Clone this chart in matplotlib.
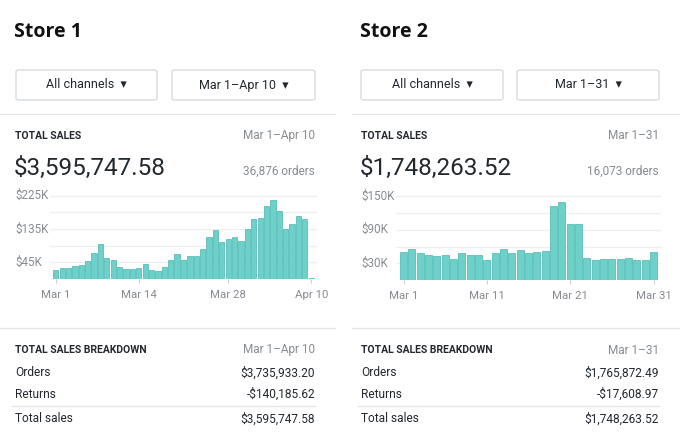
import matplotlib
matplotlib.use("Agg")
import matplotlib.pyplot as plt
from matplotlib.lines import Line2D
from matplotlib.patches import FancyBboxPatch

W, H = 680, 447

# data (values in $K per day)
store1_sales = [24, 30, 31, 34, 39, 48, 69, 94, 58, 52, 33, 27, 27, 30, 40, 24, 22, 33, 52, 67,
                50, 63, 61, 80, 114, 132, 101, 108, 112, 103, 134, 162, 164, 197, 214, 184, 136, 148, 169, 162, 3]
store1_ticks = [0, 13, 27, 40]
store1_ticklabels = ["Mar 1", "Mar 14", "Mar 28", "Apr 10"]
store1_yticks = [45, 90, 135, 180, 225]
store1_ylabels = ["$45K", "", "$135K", "", "$225K"]

store2_sales = [51, 55, 48, 45, 43, 44, 37, 48, 45, 45, 35, 48, 55, 49, 54, 48, 50, 52, 133, 140,
                101, 101, 40, 35, 38, 37, 37, 40, 35, 35, 51]
store2_ticks = [0, 10, 20, 30]
store2_ticklabels = ["Mar 1", "Mar 11", "Mar 21", "Mar 31"]
store2_yticks = [30, 60, 90, 120, 150]
store2_ylabels = ["$30K", "", "$90K", "", "$150K"]

stores = ["Store 1", "Store 2"]
ranges = ["Mar 1\u2013Apr 10", "Mar 1\u201331"]
totals = ["$3,595,747.58", "$1,748,263.52"]
orders = ["36,876 orders", "16,073 orders"]
breakdown_labels = ["Orders", "Returns", "Total sales"]
breakdown_vals = [["$3,735,933.20", "-$140,185.62", "$3,595,747.58"],
                  ["$1,765,872.49", "-$17,608.97", "$1,748,263.52"]]

DARK = "#22282e"
GRAY = "#868c92"
LINE = "#e3e6e9"
BAR = "#6dd0c9"
BAR_EDGE = "#46b5ae"
BODY = ["Roboto", "DejaVu Sans"]

fig = plt.figure(figsize=(W / 100, H / 100), dpi=100)
fig.patch.set_facecolor("white")


def fx(x):
    return x / W


def fy(y):
    return 1 - y / H


def txt(x, y, s, **kw):
    kw.setdefault("family", BODY)
    kw.setdefault("color", DARK)
    fig.text(fx(x), fy(y), s, va="center", **kw)


def hline(x0, x1, y, color=LINE, lw=0.9):
    fig.add_artist(Line2D([fx(x0), fx(x1)], [fy(y), fy(y)], color=color, lw=lw,
                          transform=fig.transFigure))


def box(x0, x1, y0, y1):
    fig.add_artist(FancyBboxPatch((fx(x0), fy(y1)), fx(x1 - x0), (y1 - y0) / H,
                                  boxstyle="round,pad=0,rounding_size=0.004",
                                  facecolor="white", edgecolor="#cdd3d8", lw=0.8,
                                  transform=fig.transFigure))


def bar_chart(left, right, zero_y, px_per_k, top_k, vals, ticks, ticklabels, yticks, ylabels, label_x):
    top_y = zero_y - top_k * px_per_k
    ax = fig.add_axes([fx(left), fy(zero_y), fx(right - left), (zero_y - top_y) / H])
    x = list(range(len(vals)))
    ax.bar(x, vals, width=0.82, color=BAR, edgecolor=BAR_EDGE, linewidth=0.5, zorder=3)
    ax.set_xlim(-0.9, len(vals) - 0.1)
    ax.set_ylim(0, top_k)
    ax.set_yticks(yticks)
    ax.set_yticklabels([])
    ax.tick_params(axis="y", length=0)
    ax.grid(axis="y", color="#eceef0", lw=0.9, zorder=0)
    ax.set_xticks(ticks)
    ax.set_xticklabels(ticklabels, family=BODY, fontsize=8.2, color=GRAY)
    ax.tick_params(axis="x", length=3, color="#c9cfd5", pad=5)
    for s in ax.spines.values():
        s.set_visible(False)
    for yt, lab in zip(yticks, ylabels):
        if lab:
            txt(label_x, zero_y - yt * px_per_k, lab, fontsize=8.4, color=GRAY)
    return ax


panels = [
    dict(x0=0, x1=335, lx=15, rx=315, dd=[(16, 157), (172, 315)],
         chart=(50, 317, 279, 66.7 / 180, 238, store1_sales, store1_ticks, store1_ticklabels,
                store1_yticks, store1_ylabels)),
    dict(x0=352, x1=680, lx=361, rx=659, dd=[(361, 503), (517, 659)],
         chart=(396, 661, 280, 67.0 / 120, 158, store2_sales, store2_ticks, store2_ticklabels,
                store2_yticks, store2_ylabels)),
]

for i, p in enumerate(panels):
    lx, rx = p["lx"], p["rx"]
    txt(lx - 1, 32, stores[i], family=["Open Sans", "DejaVu Sans"], fontsize=14, fontweight="bold",
        color="#111111")
    for (a, b), s in zip(p["dd"], ["All channels  \u25be", ranges[i] + "  \u25be"]):
        box(a, b, 70, 100)
        fig.text(fx((a + b) / 2), fy(85), s, ha="center", va="center", family=BODY, fontsize=9,
                 color=DARK)
    hline(p["x0"], p["x1"], 114)
    txt(lx, 136, "TOTAL SALES", fontsize=7.5, fontweight="bold")
    txt(rx, 136, ranges[i], fontsize=8.5, color=GRAY, ha="right")
    txt(lx - 1, 168, totals[i], fontsize=17.5)
    txt(rx, 171, orders[i], fontsize=8.5, color=GRAY, ha="right")

    bar_chart(*p["chart"], label_x=lx)

    hline(p["x0"], p["x1"], 328)
    txt(lx, 350, "TOTAL SALES BREAKDOWN", fontsize=7.5, fontweight="bold")
    txt(rx, 350, ranges[i], fontsize=8.5, color=GRAY, ha="right")
    for lab, val, yy in zip(breakdown_labels, breakdown_vals[i], [373, 394, 419]):
        txt(lx, yy, lab, fontsize=8.6)
        txt(rx, yy, val, fontsize=8.6, ha="right")
    hline(lx - 3, rx, 406)

fig.savefig("out.png", dpi=100, facecolor="white")
